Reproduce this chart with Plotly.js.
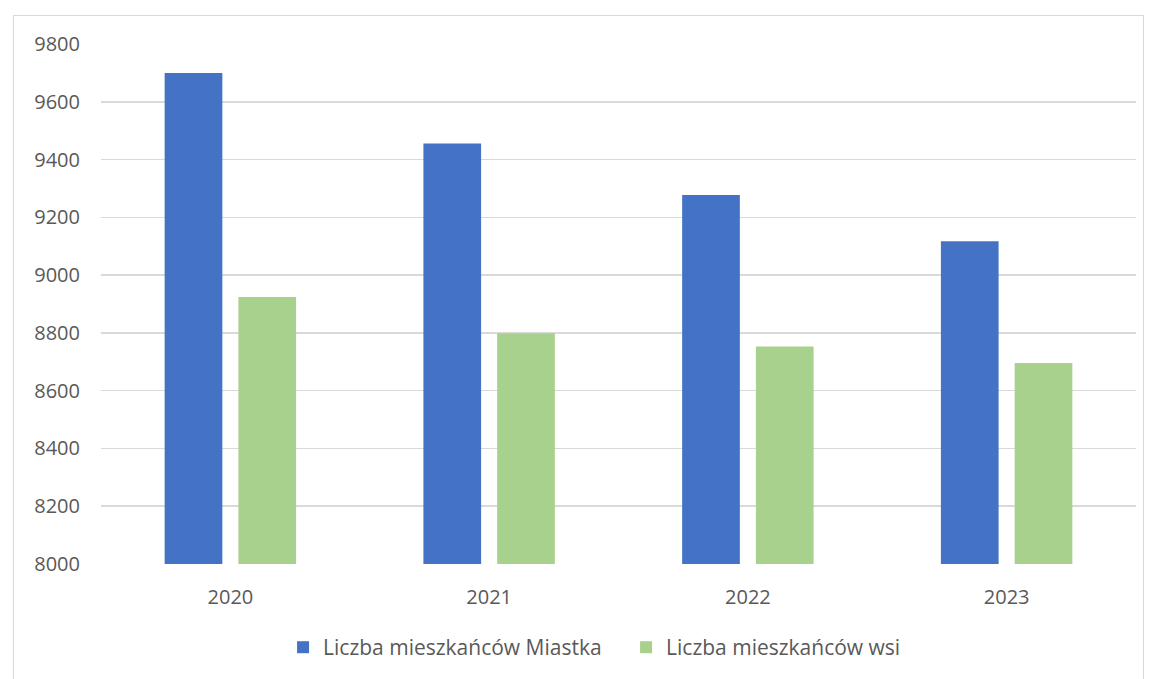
<!DOCTYPE html>
<html>
<head>
<meta charset="utf-8">
<script src="https://cdn.plot.ly/plotly-3.0.1.min.js"></script>
<style>
html,body{margin:0;padding:0;background:#fff;}
#wrap{position:relative;width:1153px;height:679px;overflow:hidden;}
#chart{position:absolute;left:0;top:0;width:1153px;height:679px;}
#frame{position:absolute;left:13px;top:15px;width:1129px;height:700px;border:1px solid #D9D9D9;pointer-events:none;}
</style>
</head>
<body>
<div id="wrap"><div id="chart"></div><div id="frame"></div></div>
<script>
const years = ['2020', '2021', '2022', '2023'];
const seriesNames = ['Liczba mieszkańców Miastka', 'Liczba mieszkańców wsi'];
const miastko = [9700, 9456, 9277, 9117];
const wsi = [8924, 8799, 8753, 8696];
const yTicks = [8000, 8200, 8400, 8600, 8800, 9000, 9200, 9400, 9600, 9800];

const font = {family: '"Open Sans", "Noto Sans", sans-serif', size: 20, color: '#595959'};

const traces = [
  {type: 'bar', x: years, y: miastko, name: seriesNames[0], marker: {color: '#4472C4'},
   width: 0.223, offset: -0.254, hoverinfo: 'x+y'},
  {type: 'bar', x: years, y: wsi, name: seriesNames[1], marker: {color: '#A9D18E'},
   width: 0.223, offset: 0.031, hoverinfo: 'x+y'}
];

const layout = {
  width: 1153, height: 679,
  margin: {l: 101, r: 17, t: 44, b: 115, autoexpand: false},
  paper_bgcolor: 'rgba(0,0,0,0)', plot_bgcolor: '#fff',
  font: font,
  barmode: 'group',
  showlegend: true,
  legend: {orientation: 'h', xref: 'container', yref: 'container',
           x: 0.2455, xanchor: 'left', y: 0.0765, yanchor: 'top',
           entrywidth: 298,
           font: {family: font.family, size: 21, color: '#595959'}, itemclick: false},
  xaxis: {type: 'category', showgrid: false, zeroline: false, showline: false, ticks: '',
          tickfont: font, ticklabelstandoff: 19, automargin: false},
  yaxis: {range: [8000, 9800], tickvals: yTicks, ticktext: yTicks.map(String),
          showgrid: true, gridcolor: '#D9D9D9', gridwidth: 1.5, zeroline: false,
          showline: false, ticks: '', tickfont: font, ticklabelstandoff: 20, automargin: false},
};

Plotly.newPlot('chart', traces, layout, {displayModeBar: false, staticPlot: true});
</script>
</body>
</html>
